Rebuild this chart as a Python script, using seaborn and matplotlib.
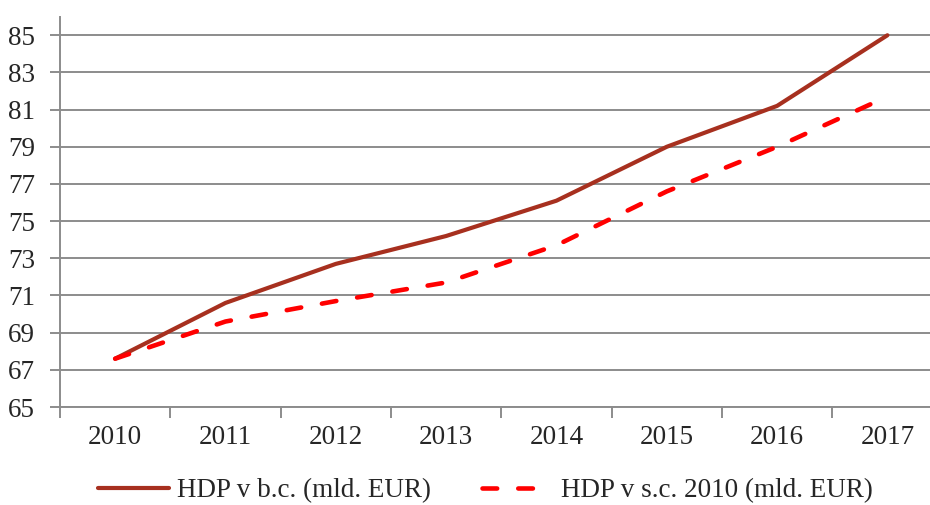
import pandas as pd
import seaborn as sns
import matplotlib.pyplot as plt
from matplotlib.lines import Line2D

# values
years = ["2010", "2011", "2012", "2013", "2014", "2015", "2016", "2017"]
hdp_bc = [67.6, 70.6, 72.7, 74.2, 76.1, 79.0, 81.2, 85.0]
hdp_sc2010 = [67.6, 69.6, 70.7, 71.7, 73.7, 76.6, 79.0, 81.7]
series_names = ["HDP v b.c. (mld. EUR)", "HDP v s.c. 2010 (mld. EUR)"]
y_ticks = list(range(65, 86, 2))

df = pd.DataFrame({
    "rok": years * 2,
    "hodnota": hdp_bc + hdp_sc2010,
    "rad": [series_names[0]] * len(years) + [series_names[1]] * len(years),
})

sns.set_style("white")
plt.rcParams["font.family"] = ["Liberation Serif", "DejaVu Serif"]

colors = {series_names[0]: "#A7301F", series_names[1]: "#FF0000"}
grid_col = "#8C8C8C"
fsize = 19.5

fig = plt.figure(figsize=(9.3, 5.05), dpi=100)
ax = fig.add_axes([0.0645, 0.194, 0.949, 0.773])

sns.lineplot(data=df[df["rad"] == series_names[0]], x="rok", y="hodnota",
             color=colors[series_names[0]], lw=3.0, ax=ax, legend=False,
             sort=False)
sns.lineplot(data=df[df["rad"] == series_names[1]], x="rok", y="hodnota",
             color=colors[series_names[1]], lw=3.3, ax=ax, legend=False,
             sort=False)
ax.lines[1].set_dashes((3.2, 4.6))
ax.lines[1].set_dash_capstyle("round")
ax.lines[0].set_solid_capstyle("round")

ax.set_ylim(65, 86)
ax.set_xlim(-0.5, len(years) - 0.5)
ax.set_yticks(y_ticks)
ax.set_xticks(range(len(years)))
ax.set_xticklabels(years)
ax.set_xticks([i - 0.5 for i in range(len(years) + 1)], minor=True)
ax.yaxis.grid(True, color=grid_col, lw=1.4)
ax.set_axisbelow(True)
ax.set_xlabel("")
ax.set_ylabel("")

for s in ["top", "right"]:
    ax.spines[s].set_visible(False)
for s in ["left", "bottom"]:
    ax.spines[s].set_color(grid_col)
    ax.spines[s].set_linewidth(1.4)

ax.tick_params(axis="y", length=7, width=1.4, color=grid_col, pad=11,
               labelsize=fsize, direction="out", left=True)
ax.tick_params(axis="x", which="major", length=0, pad=13, labelsize=fsize)
ax.tick_params(axis="x", which="minor", length=8, width=1.4,
               color=grid_col, direction="out", bottom=True)

handles = [
    Line2D([], [], color=colors[series_names[0]], lw=3.0,
           solid_capstyle="round"),
    Line2D([], [], color=colors[series_names[1]], lw=3.3,
           dashes=(3.2, 4.6), dash_capstyle="round"),
]
fig.legend(handles, series_names, loc="center", bbox_to_anchor=(0.522, 0.028),
           ncol=2, frameon=False, fontsize=fsize, handlelength=2.6,
           handletextpad=0.3, columnspacing=1.9)

fig.savefig("out.png", dpi=100)
